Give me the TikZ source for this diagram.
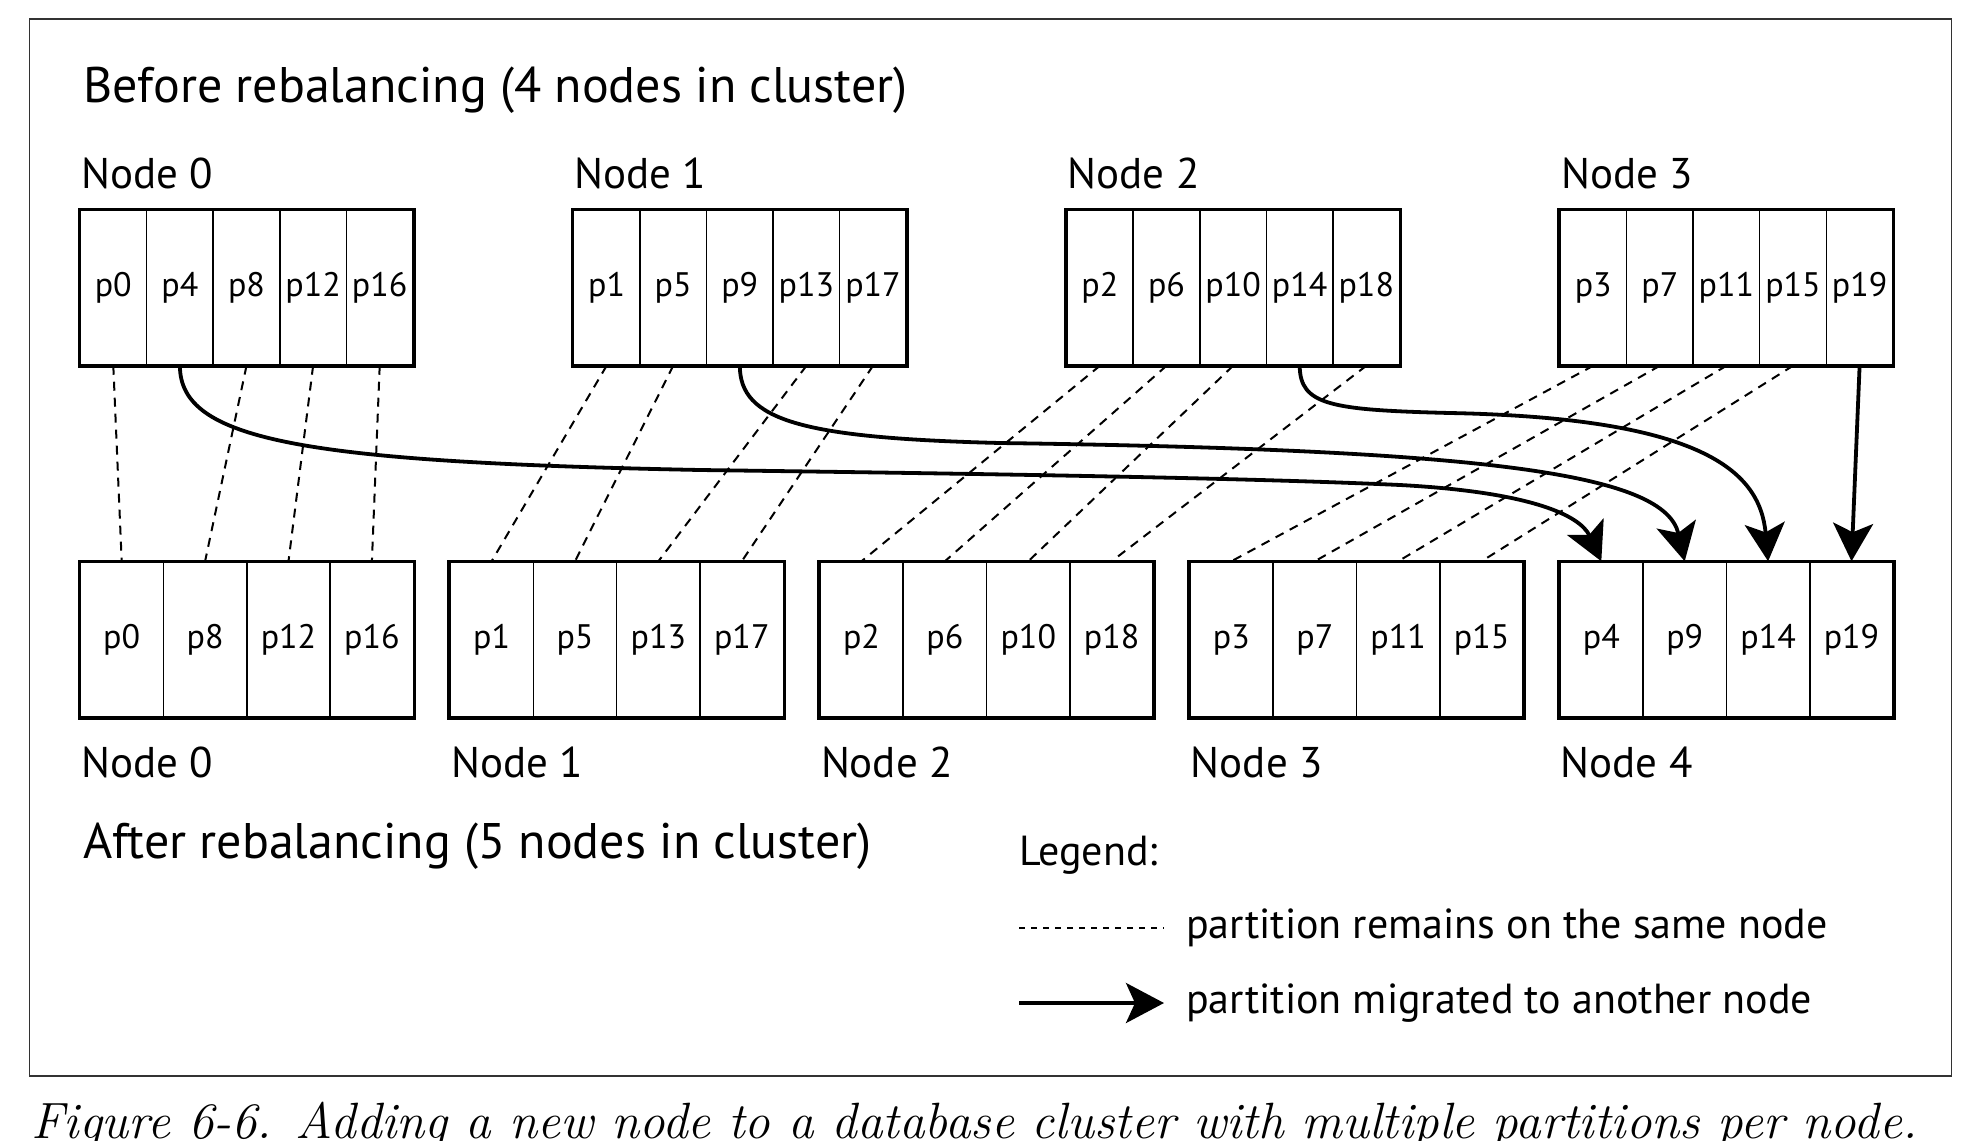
\documentclass[tikz,border=0pt]{standalone}
\usepackage{fontspec}
\setsansfont{PT Sans}
\usetikzlibrary{arrows.meta, calc}
\definecolor{framegray}{RGB}{50,50,50}
\newcommand{\cellheight}{155pt}
\newcommand{\topstep}{493.3}
\newcommand{\botstep}{369.9}
\tikzset{
  cell/.style={draw, line width=1.5pt, minimum height=\cellheight, inner sep=0pt, font=\fontsize{34}{40}\selectfont\sffamily},
  nodebox/.style={line width=3.5pt},
  nodelabel/.style={anchor=base west, inner sep=0pt, font=\fontsize{43}{50}\selectfont\sffamily},
  headline/.style={anchor=base west, inner sep=0pt, font=\fontsize{50}{58}\selectfont\sffamily},
  legendtext/.style={anchor=base west, inner sep=0pt, font=\fontsize{42}{50}\selectfont\sffamily},
  stays/.style={dash pattern=on 9pt off 7pt, line width=2pt},
  moves/.style={line width=3.8pt, -{Stealth[length=38pt,width=40pt,inset=9pt]}},
}

\begin{document}
\begin{tikzpicture}[x=1pt,y=-1pt]
	\useasboundingbox (0,0) rectangle (1972,1140);
	\draw[framegray, line width=1.5pt] (29.5,19) rectangle (1951.5,1076);

	% before: 4 nodes, 5 partitions each
	\node[headline] (before) at (83,102) {Before rebalancing (4 nodes in cluster)};
	\foreach \k in {0,...,3}{
		\foreach \j in {0,...,4}{
			\pgfmathtruncatemacro{\p}{\k+4*\j}
			\node[cell, minimum width=66.6pt] (t\p) at ({80+\topstep*\k+66.6*(\j+0.5)},287.5) {p\p};
		}
		\pgfmathtruncatemacro{\last}{\k+16}
		\draw[nodebox] (t\k.north west) rectangle (t\last.south east);
		\node[nodelabel] (top\k) at ({81+\topstep*\k},188) {Node \k};
	}

	% after: 5 nodes, 4 partitions each
	\foreach \k/\plist/\last in {0/{0,8,12,16}/16, 1/{1,5,13,17}/17, 2/{2,6,10,18}/18, 3/{3,7,11,15}/15, 4/{4,9,14,19}/19}{
		\foreach \p [count=\j from 0] in \plist{
			\node[cell, minimum width=83.4pt] (b\p) at ({80+\botstep*\k+83.4*(\j+0.5)},639.5) {p\p};
		}
		\draw[nodebox] (b\k.north west) rectangle (b\last.south east);
		\node[nodelabel] (bot\k) at ({81+\botstep*\k},777) {Node \k};
	}
	\node[headline] (after) at (83,858) {After rebalancing (5 nodes in cluster)};

	% partitions that stay where they are
	\foreach \p in {0,1,2,3,5,6,7,8,10,11,12,13,15,16,17,18}
		\draw[stays] (t\p.south) -- (b\p.north);

	% partitions that go to node 4
	\draw[moves] (t4.south) .. controls (180,440) and (300,462) .. (700,470)
		.. controls (1000,474) and (1250,478) .. (1400,485)
		.. controls (1530,492) and (1580,515) .. (b4.north);
	\draw[moves] (t9.south) .. controls (740,420) and (800,438) .. (1000,443)
		.. controls (1500,450) and (1665,475) .. (b9.north);
	\draw[moves] (t14.south) .. controls (1300,405) and (1330,410) .. (1450,413)
		.. controls (1700,418) and (1760,470) .. (b14.north);
	\draw[moves] (t19.south) -- (b19.north);

	% legend
	\node[legendtext] (legend) at (1019,865) {Legend:};
	\node[legendtext] (lstay) at (1186,938) {partition remains on the same node};
	\node[legendtext] (lmove) at (1186,1013) {partition migrated to another node};
	\coordinate (ls0) at (1019,928);
	\coordinate (ls1) at (1164,928);
	\coordinate (lm0) at (1019,1003);
	\coordinate (lm1) at (1164,1003);
	\draw[dash pattern=on 6pt off 6pt, line width=1.3pt] (ls0) -- (ls1);
	\draw[moves] (lm0) -- (lm1);

	\node[anchor=base west, inner sep=0pt, font=\fontsize{51}{60}\selectfont\itshape] (caption) at (31,1138)
		{Figure 6-6. Adding a new node to a database cluster with multiple partitions per node.};
\end{tikzpicture}
\end{document}
